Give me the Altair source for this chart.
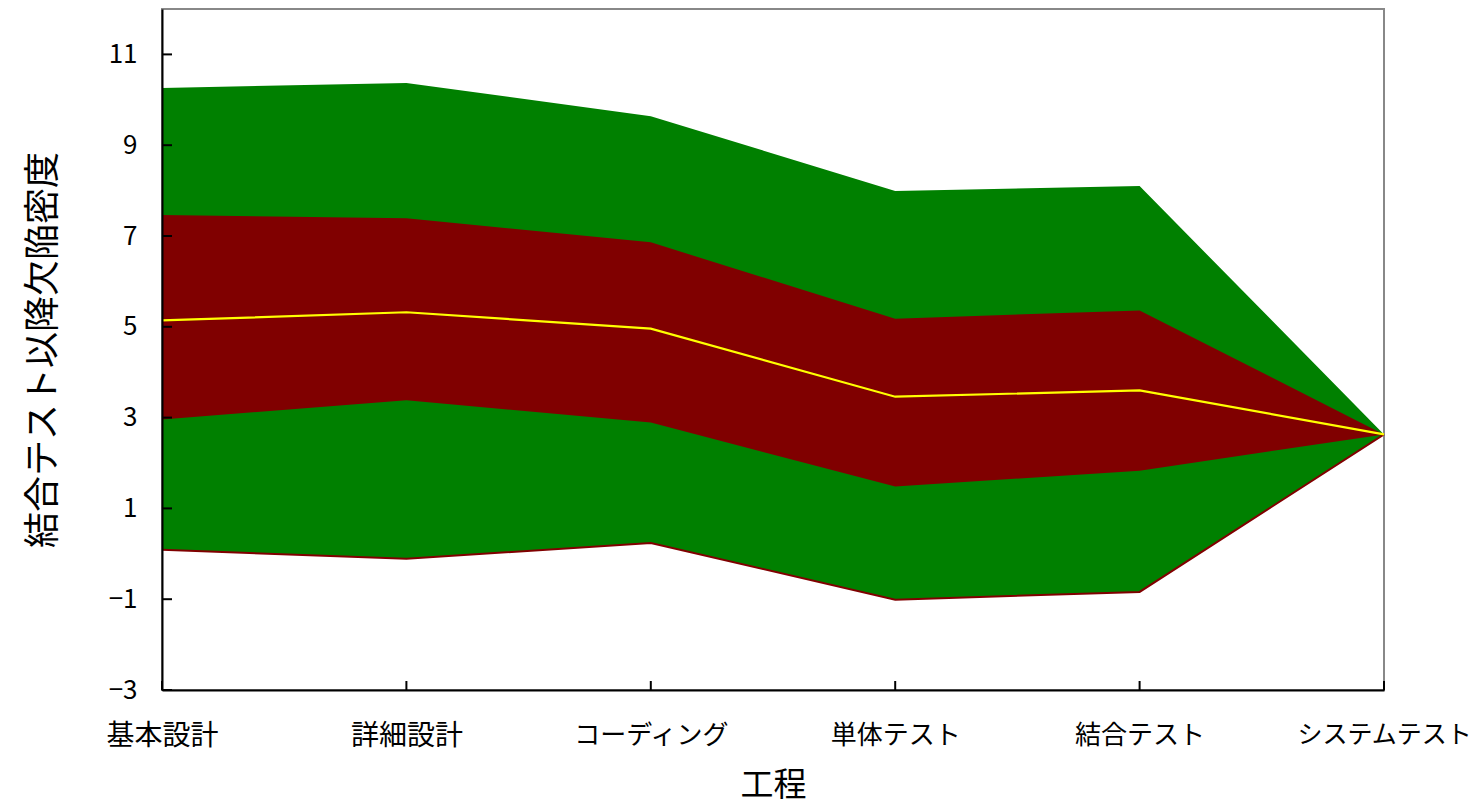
import altair as alt
import pandas as pd

stages = ["基本設計", "詳細設計", "コーディング", "単体テスト", "結合テスト", "システムテスト"]
mean = [5.14, 5.32, 4.96, 3.46, 3.60, 2.63]
inner_hi = [7.46, 7.39, 6.86, 5.18, 5.36, 2.63]
inner_lo = [2.96, 3.38, 2.89, 1.48, 1.83, 2.63]
outer_hi = [10.26, 10.37, 9.64, 7.99, 8.10, 2.63]
outer_lo = [0.09, -0.11, 0.24, -1.01, -0.84, 2.63]
y_ticks = [-3, -1, 1, 3, 5, 7, 9, 11]

FONT = "Noto Sans CJK JP"

df = pd.DataFrame({
    "stage": stages,
    "mean": mean,
    "inner_hi": inner_hi,
    "inner_lo": inner_lo,
    "outer_hi": outer_hi,
    "outer_lo": outer_lo,
})
ticks_df = pd.DataFrame({"v": y_ticks})

W, H = 1222, 681

xenc = alt.X(
    "stage:N",
    sort=stages,
    scale=alt.Scale(type="point", padding=0),
    axis=alt.Axis(
        title="工程",
        labelAngle=0,
        ticks=False,
        labelPadding=32,
        labelFontSize={
            "condition": [
                {"test": "datum.value === 'システムテスト'", "value": 25},
                {
                    "test": "indexof(datum.value, 'テスト') >= 0 || datum.value === 'コーディング'",
                    "value": 26,
                },
            ],
            "value": 28,
        },
        labelLimit=0,
        labelFont=FONT,
        labelColor="black",
        titleFont=FONT,
        titleFontSize=33,
        titleFontWeight="normal",
        titleColor="black",
        titlePadding=19,
        domainColor="black",
        domainWidth=2,
        zindex=1,
    ),
)
yscale = alt.Scale(domain=[-3, 12], nice=False, zero=False)
yaxis = alt.Axis(
    title="結合テスト以降欠陥密度",
    values=y_ticks,
    grid=False,
    ticks=False,
    labelPadding=25,
    labelFontSize=26,
    labelFont=FONT,
    labelColor="black",
    titleFont=FONT,
    titleFontSize=36,
    titleFontWeight="normal",
    titleColor="black",
    titlePadding=46,
    domainColor="black",
    domainWidth=2,
    zindex=1,
)

base = alt.Chart(df)

outer = base.mark_area(color="#008000", opacity=1).encode(
    x=xenc,
    y=alt.Y("outer_lo:Q", scale=yscale, axis=yaxis),
    y2="outer_hi:Q",
)
inner = base.mark_area(color="#800000", opacity=1).encode(
    x=xenc, y=alt.Y("inner_lo:Q"), y2="inner_hi:Q"
)
low_line = base.mark_line(color="#800000", strokeWidth=2).encode(
    x=xenc, y="outer_lo:Q"
)
mean_line = base.mark_line(color="#FFFF00", strokeWidth=2.2).encode(
    x=xenc, y="mean:Q"
)
xticks = base.mark_rule(color="black", strokeWidth=2).encode(
    x=xenc, y=alt.value(H - 9), y2=alt.value(H)
)
yticks = alt.Chart(ticks_df).mark_rule(color="black", strokeWidth=2).encode(
    y=alt.Y("v:Q"), x=alt.value(0), x2=alt.value(10)
)

chart = (
    alt.layer(outer, inner, low_line, mean_line, xticks, yticks)
    .properties(
        width=W,
        height=H,
        autosize=alt.AutoSizeParams(type="none"),
        padding={"left": 154, "top": 1, "right": 87, "bottom": 114},
        background="white",
    )
    .configure_view(stroke="#888888", strokeWidth=2)
)

chart.save("out.html", embed_options={"renderer": "svg", "actions": False})
